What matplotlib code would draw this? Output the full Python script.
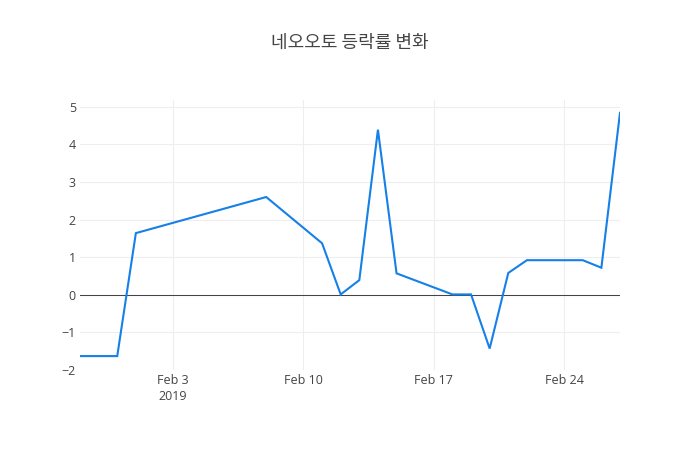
import matplotlib
matplotlib.use("Agg")
import matplotlib.pyplot as plt
import numpy as np

# daily change rate (%)
dates = np.array([
    "2019-01-29", "2019-01-31", "2019-02-01", "2019-02-08", "2019-02-11",
    "2019-02-12", "2019-02-13", "2019-02-14", "2019-02-15", "2019-02-18",
    "2019-02-19", "2019-02-20", "2019-02-21", "2019-02-22", "2019-02-25",
    "2019-02-26", "2019-02-27",
], dtype="datetime64[D]")
rates = [-1.63, -1.63, 1.64, 2.60, 1.37, 0.01, 0.39, 4.39, 0.57, 0.01,
         0.01, -1.43, 0.58, 0.92, 0.92, 0.72, 4.84]

tick_dates = np.array(["2019-02-03", "2019-02-10", "2019-02-17", "2019-02-24"],
                      dtype="datetime64[D]")
tick_labels = ["Feb 3\n2019", "Feb 10", "Feb 17", "Feb 24"]
title = "네오오토 등락률 변화"

plt.rcParams["font.family"] = ["Open Sans", "DejaVu Sans"]

fig = plt.figure(figsize=(7, 4.5), dpi=100)
ax = fig.add_axes([80 / 700, 80 / 450, 540 / 700, 270 / 450])

ax.plot(dates, rates, color="#1580e8", linewidth=1.5, solid_joinstyle="miter", zorder=3)
ax.axhline(0, color="#444444", linewidth=0.75, zorder=2)

ax.set_xlim(dates[0], dates[-1])
ax.set_ylim(-1.98, 5.18)
ax.set_xticks(tick_dates)
ax.set_xticklabels(tick_labels, linespacing=1.25)
ax.set_yticks(range(-2, 6))
ax.set_yticklabels([str(v).replace("-", "\u2212") for v in range(-2, 6)])

ax.grid(True, color="#eeeeee", linewidth=0.75)
ax.set_axisbelow(True)
for s in ax.spines.values():
    s.set_visible(False)
ax.tick_params(length=0, labelsize=9, colors="#444444")
ax.tick_params(axis="x", pad=3)
ax.tick_params(axis="y", pad=3)

fig.text(0.5, 1 - 43 / 450, title, ha="center", va="center", fontsize=13,
         color="#444444", family=["Noto Sans CJK KR", "DejaVu Sans"])

fig.savefig("out.png", dpi=100)
